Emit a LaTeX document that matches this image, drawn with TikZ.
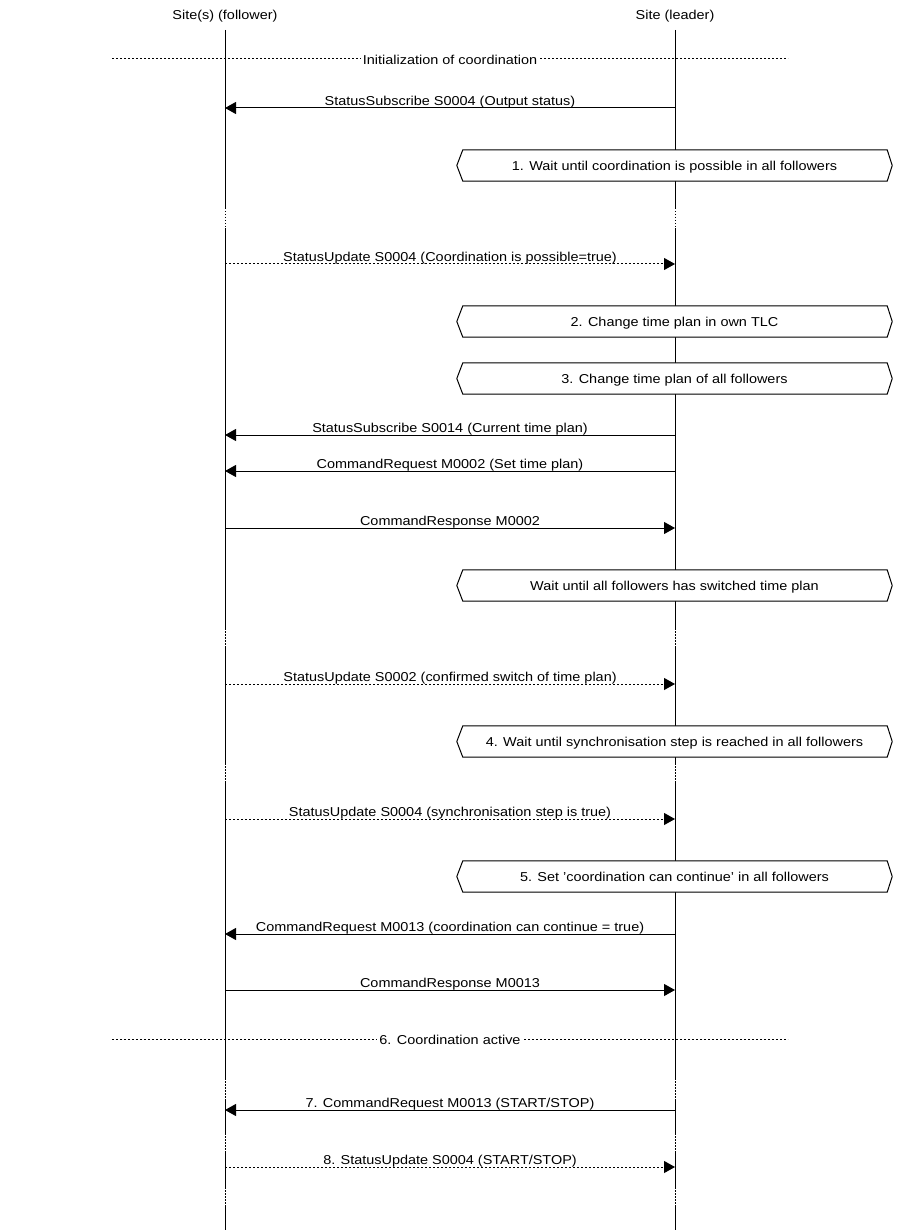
\documentclass[tikz,border=0pt]{standalone}
\usepackage{fontspec}
\setmainfont[FakeStretch=1.12]{Liberation Sans}
\usetikzlibrary{arrows.meta}
\pgfdeclarelayer{lifel}
\pgfdeclarelayer{boxbg}
\pgfsetlayers{lifel,boxbg,main}
\begin{document}
\begin{tikzpicture}[x=1pt,y=-1pt,
  font=\fontsize{12.9}{15}\selectfont,
  life/.style={line width=1pt},
  gapline/.style={line width=1pt, dash pattern=on 1.5pt off 1.5pt},
  msg/.style={line width=1pt,-{Triangle[length=11pt,width=12pt]}},
  rmsg/.style={msg, dash pattern=on 2pt off 2pt},
  lbl/.style={midway, anchor=base, yshift=2.8pt, inner sep=0pt},
  boxtext/.style={inner sep=0pt, text depth=0pt, minimum width=435pt, minimum height=31pt},
  hexbg/.style={draw, line width=1pt, fill=white},
  divline/.style={line width=1pt, dash pattern=on 2pt off 2pt},
  divlabel/.style={fill=white, inner xsep=2pt, inner ysep=1pt, text depth=0pt, yshift=-0.5pt}]
\useasboundingbox (0,0) rectangle (900,1230);

% entity headers
\node (F) at (225,16) {Site(s) (follower)};
\node (L) at (675,16) {Site (leader)};

% lifelines
\begin{pgfonlayer}{lifel}
\foreach \x in {225,675} {
  \draw[life] (\x,30) -- (\x,208);
  \draw[gapline] (\x,208) -- (\x,228);
  \draw[life] (\x,228) -- (\x,628);
  \draw[gapline] (\x,628) -- (\x,648);
  \draw[life] (\x,648) -- (\x,763);
  \draw[gapline] (\x,763) -- (\x,783);
  \draw[life] (\x,783) -- (\x,1078);
  \draw[gapline] (\x,1078) -- (\x,1100);
  \draw[life] (\x,1100) -- (\x,1133);
  \draw[gapline] (\x,1133) -- (\x,1153);
  \draw[life] (\x,1153) -- (\x,1187);
  \draw[gapline] (\x,1187) -- (\x,1207);
  \draw[life] (\x,1207) -- (\x,1230);
}
\end{pgfonlayer}

% dividers
\coordinate (d1a) at (112,59);  \coordinate (d1b) at (788,59);
\draw[divline] (d1a) -- (d1b) node[midway, divlabel] (d1) {Initialization of coordination};
\coordinate (d2a) at (112,1039); \coordinate (d2b) at (788,1039);
\draw[divline] (d2a) -- (d2b) node[midway, divlabel] (d2) {6. Coordination active};

% boxes
\foreach \n/\y/\t in {
  b1/165.5/{1. Wait until coordination is possible in all followers},
  b2/321.5/{2. Change time plan in own TLC},
  b3/378.5/{3. Change time plan of all followers},
  b4/585.5/{Wait until all followers has switched time plan},
  b5/741.5/{4. Wait until synchronisation step is reached in all followers},
  b6/876.5/{5. Set 'coordination can continue' in all followers}} {
  \node[boxtext] (\n) at (674.5,\y) {\t};
  \begin{pgfonlayer}{boxbg}
  \draw[hexbg] (\n.west) -- ([xshift=6pt]\n.north west) -- ([xshift=-5pt]\n.north east)
    -- (\n.east) -- ([xshift=-5pt]\n.south east) -- ([xshift=6pt]\n.south west) -- cycle;
  \end{pgfonlayer}
}

% message end points
\foreach \k/\y in {1/108, 2/264, 3/435, 4/471, 5/528, 6/684, 7/819, 8/934, 9/990, 10/1110, 11/1167} {
  \coordinate (f\k) at (225,\y);
  \coordinate (l\k) at (675,\y);
}

\draw[msg]  (l1) -- (f1) node[lbl] {StatusSubscribe S0004 (Output status)};
\draw[rmsg] (f2) -- (l2) node[lbl] {StatusUpdate S0004 (Coordination is possible=true)};
\draw[msg]  (l3) -- (f3) node[lbl] {StatusSubscribe S0014 (Current time plan)};
\draw[msg]  (l4) -- (f4) node[lbl] {CommandRequest M0002 (Set time plan)};
\draw[msg]  (f5) -- (l5) node[lbl] {CommandResponse M0002};
\draw[rmsg] (f6) -- (l6) node[lbl] {StatusUpdate S0002 (confirmed switch of time plan)};
\draw[rmsg] (f7) -- (l7) node[lbl] {StatusUpdate S0004 (synchronisation step is true)};
\draw[msg]  (l8) -- (f8) node[lbl] {CommandRequest M0013 (coordination can continue = true)};
\draw[msg]  (f9) -- (l9) node[lbl] {CommandResponse M0013};
\draw[msg]  (l10) -- (f10) node[lbl] {7. CommandRequest M0013 (START/STOP)};
\draw[rmsg] (f11) -- (l11) node[lbl] {8. StatusUpdate S0004 (START/STOP)};
\end{tikzpicture}
\end{document}
